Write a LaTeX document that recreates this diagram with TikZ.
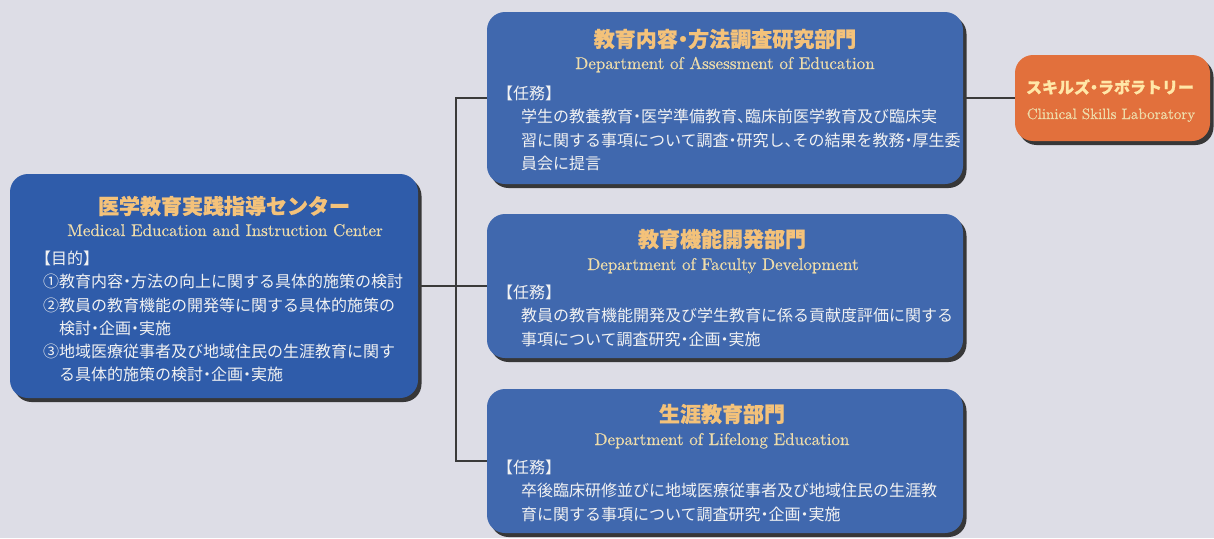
\documentclass[tikz,border=0pt]{standalone}
\usepackage{fontspec}
\newfontfamily\jp{Noto Sans CJK JP}
\newfontfamily\jpt{Noto Sans CJK JP}[BoldFeatures={FakeBold=0.8}]
\newfontfamily\engf{lmroman10-regular.otf}[FakeBold=0.5]
\usetikzlibrary{shadows}
\definecolor{bg}{HTML}{DDDDE6}
\definecolor{boxblue}{HTML}{4068AE}
\definecolor{boxblueL}{HTML}{2F5CAA}
\definecolor{gold}{HTML}{F4C27A}
\definecolor{tanc}{HTML}{EEDCAA}
\definecolor{bodytxt}{HTML}{F2F2F2}
\definecolor{orangebox}{HTML}{E2703C}
\definecolor{orangetitle}{HTML}{FFE7A8}
\definecolor{linegray}{HTML}{3A3A3A}
\newcommand\hwc[1]{\makebox[0.5em][c]{#1}}
\newcommand\hwl[1]{\makebox[0.5em][l]{#1}}
\newcommand\obr{\makebox[0.5em][r]{【}}
\newcommand\cbr{\makebox[0.5em][l]{】}}
\tikzset{
  box/.style={rectangle, rounded corners=18pt, fill=boxblue, inner sep=0pt,
    drop shadow={shadow xshift=3.5pt, shadow yshift=-4pt, fill=black!85, opacity=0.9}},
  obox/.style={box, fill=orangebox},
  conn/.style={draw=linegray, line width=1.3pt},
  ttl/.style={font=\jpt\bfseries\fontsize{21}{24}\selectfont, text=gold, inner sep=0pt},
  lttl/.style={font=\jpt\bfseries\fontsize{16}{19}\selectfont, text=orangetitle, inner sep=0pt},
  eng/.style={font=\engf\fontsize{17}{20}\selectfont, text=tanc, inner sep=0pt, anchor=base},
  leng/.style={font=\engf\fontsize{15}{18}\selectfont, text=tanc, inner sep=0pt, anchor=base},
  body/.style={font=\jp\fontsize{16}{23.2}\selectfont, text=bodytxt, inner sep=0pt, align=left, anchor=north west}
}
\begin{document}
\begin{tikzpicture}[x=1pt,y=-1pt]
\useasboundingbox (0,0) rectangle (1214,538);
\fill[bg] (0,0) rectangle (1214,538);

% boxes
\node[box, fill=boxblueL, minimum width=408pt, minimum height=224pt] (center) at (214,286) {};
\node[box, minimum width=476pt, minimum height=172pt] (assess) at (725,98) {};
\node[box, minimum width=476pt, minimum height=144pt] (faculty) at (725,286) {};
\node[box, minimum width=476pt, minimum height=144pt] (lifelong) at (725,461) {};
\node[obox, minimum width=195pt, minimum height=86pt] (lab) at (1112.5,98) {};

% connectors
\coordinate (bus) at (456,286);
\draw[conn] (assess.west) -| (bus) |- (lifelong.west);
\draw[conn] (center.east) -- (faculty.west);
\draw[conn] (assess.east) -- (lab.west);

% center box text
\node[ttl] (centerT) at (224,206) {医学教育実践指導センター};
\node[eng] (centerE) at (225,236) {Medical Education and Instruction Center};
\node[body] (centerB) at (43,251) {\obr 目的\cbr\\
①教育内容\hwc{・}方法の向上に関する具体的施策の検討\\
②教員の教育機能の開発等に関する具体的施策の\\
\hspace{1em}検討\hwc{・}企画\hwc{・}実施\\
③地域医療従事者及び地域住民の生涯教育に関す\\
\hspace{1em}る具体的施策の検討\hwc{・}企画\hwc{・}実施};

% assessment box text
\node[ttl] (assessT) at (725,39) {教育内容\hwc{・}方法調査研究部門};
\node[eng] (assessE) at (725,69) {Department of Assessment of Education};
\node[body] (assessB) at (505,86) {\obr 任務\cbr\\
\hspace{1em}学生の教養教育\hwc{・}医学準備教育\hwl{、}臨床前医学教育及び臨床実\\
\hspace{1em}習に関する事項について調査\hwc{・}研究し\hwl{、}その結果を教務\hwc{・}厚生委\\
\hspace{1em}員会に提言};

% faculty box text
\node[ttl] (facultyT) at (722,239) {教育機能開発部門};
\node[eng] (facultyE) at (723,270) {Department of Faculty Development};
\node[body] (facultyB) at (505,285) {\obr 任務\cbr\\
\hspace{1em}教員の教育機能開発及び学生教育に係る貢献度評価に関する\\
\hspace{1em}事項について調査研究\hwc{・}企画\hwc{・}実施};

% lifelong box text
\node[ttl] (lifelongT) at (722,414) {生涯教育部門};
\node[eng] (lifelongE) at (722,445) {Department of Lifelong Education};
\node[body] (lifelongB) at (505,460) {\obr 任務\cbr\\
\hspace{1em}卒後臨床研修並びに地域医療従事者及び地域住民の生涯教\\
\hspace{1em}育に関する事項について調査研究\hwc{・}企画\hwc{・}実施};

% lab box text
\node[lttl] (labT) at (1110,87) {スキルズ\hwc{・}ラボラトリー};
\node[leng] (labE) at (1111,119) {Clinical Skills Laboratory};
\end{tikzpicture}
\end{document}
